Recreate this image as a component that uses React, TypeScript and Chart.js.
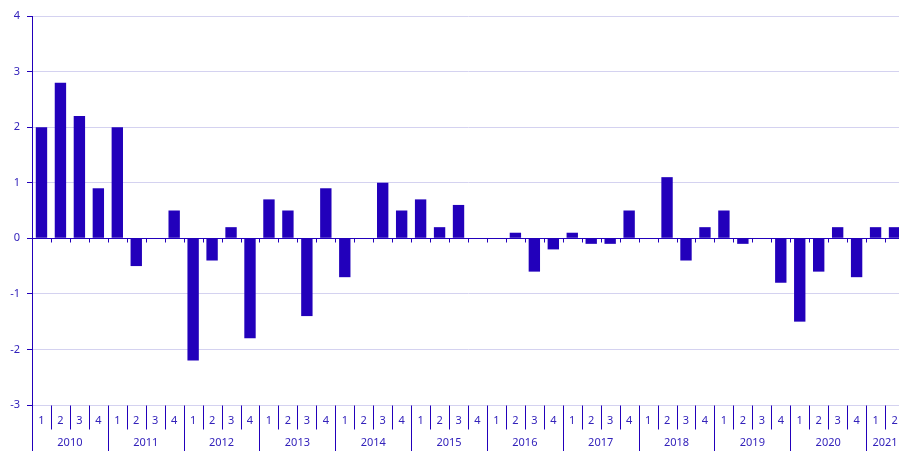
import React, { useEffect, useRef } from "react";
import { Chart, registerables } from "chart.js";

Chart.register(...registerables);

const years = ["2010", "2011", "2012", "2013", "2014", "2015", "2016", "2017", "2018", "2019", "2020", "2021"];
const quarters = ["1", "2", "3", "4"];
const values = [
  2.0, 2.8, 2.2, 0.9,
  2.0, -0.5, 0, 0.5,
  -2.2, -0.4, 0.2, -1.8,
  0.7, 0.5, -1.4, 0.9,
  -0.7, 0, 1.0, 0.5,
  0.7, 0.2, 0.6, 0,
  0, 0.1, -0.6, -0.2,
  0.1, -0.1, -0.1, 0.5,
  0, 1.1, -0.4, 0.2,
  0.5, -0.1, 0, -0.8,
  -1.5, -0.6, 0.2, -0.7,
  0.2, 0.2,
];
const yTicks = [-3, -2, -1, 0, 1, 2, 3, 4];

const labels = values.map((_, i) => years[Math.floor(i / 4)] + " Q" + quarters[i % 4]);

const DARK = "#2200BB";
const TEXT = "#3322BB";
const GRID = "#D4D2F0";
const FONT = "'Noto Sans', 'DejaVu Sans', sans-serif";

const axisPlugin = {
  id: "multiAxis",
  afterDraw(chart: any) {
    const ctx = chart.ctx;
    const area = chart.chartArea;
    const xs = chart.scales.x;
    const ys = chart.scales.y;
    const n = values.length;
    const catW = n > 1 ? xs.getPixelForValue(1) - xs.getPixelForValue(0) : area.right - area.left;
    const y0 = Math.round(ys.getPixelForValue(0)) + 0.5;
    const bottom = Math.round(area.bottom) + 0.5;
    ctx.save();
    ctx.strokeStyle = DARK;
    ctx.lineWidth = 1;
    // zero axis line with tick marks
    ctx.beginPath();
    ctx.moveTo(area.left, y0);
    ctx.lineTo(area.right, y0);
    for (let i = 1; i <= n; i++) {
      const bx = Math.round(xs.getPixelForValue(i) - catW / 2) + 0.5;
      ctx.moveTo(bx, y0);
      ctx.lineTo(bx, y0 + 4);
    }
    ctx.stroke();
    // separators in label area
    ctx.beginPath();
    for (let i = 0; i <= n; i++) {
      const bx = Math.round(xs.getPixelForValue(i) - catW / 2) + 0.5;
      const isYear = i % 4 === 0;
      ctx.moveTo(bx, bottom);
      ctx.lineTo(bx, isYear ? chart.height : bottom + 24);
    }
    ctx.stroke();
    // labels
    ctx.fillStyle = TEXT;
    ctx.font = "11px " + FONT;
    ctx.textAlign = "center";
    ctx.textBaseline = "middle";
    for (let i = 0; i < n; i++) {
      ctx.fillText(quarters[i % 4], xs.getPixelForValue(i), area.bottom + 16);
    }
    for (let y = 0; y < years.length; y++) {
      const first = y * 4;
      const last = Math.min(n - 1, first + 3);
      const cx = (xs.getPixelForValue(first) + xs.getPixelForValue(last)) / 2;
      ctx.fillText(years[y], cx, area.bottom + 38);
    }
    ctx.restore();
  },
};

export default function App() {
  const ref = useRef<HTMLCanvasElement | null>(null);
  useEffect(() => {
    if (!ref.current) return;
    const chart = new Chart(ref.current, {
      type: "bar",
      data: {
        labels,
        datasets: [
          {
            data: values,
            backgroundColor: DARK,
            borderWidth: 0,
            categoryPercentage: 1,
            barPercentage: 0.6,
          },
        ],
      },
      options: {
        responsive: false,
        animation: false,
        layout: { padding: { top: 16, bottom: 46, left: 0, right: 0 } },
        plugins: { legend: { display: false }, tooltip: { enabled: false } },
        scales: {
          x: { display: false, offset: true },
          y: {
            min: -3,
            max: 4,
            afterBuildTicks: (s: any) => {
              s.ticks = yTicks.map((v) => ({ value: v }));
            },
            afterFit: (s: any) => {
              s.width = 32;
            },
            border: { color: DARK, width: 1 },
            grid: { color: GRID, tickColor: DARK, tickLength: 5, lineWidth: 1 },
            ticks: { color: TEXT, font: { family: FONT, size: 11 }, padding: 7 },
          },
        },
      },
      plugins: [axisPlugin],
    });
    return () => chart.destroy();
  }, []);
  return (
    <div style={{ position: "absolute", left: 0, top: 0, width: 899, height: 451, overflow: "hidden", background: "#fff" }}>
      <canvas ref={ref} width={904} height={451} style={{ display: "block" }} />
    </div>
  );
}
